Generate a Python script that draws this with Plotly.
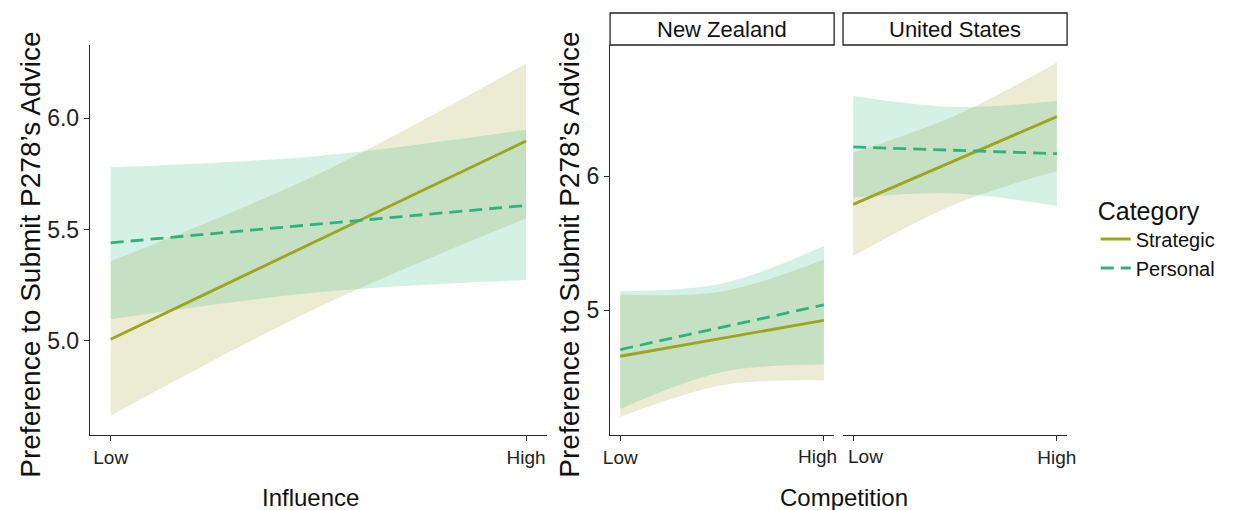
import plotly.graph_objects as go

# ---------------- data ----------------
x_pos = [0, 0.5, 1]            # Low, middle, High
tick_labels = ["Low", "High"]
categories = ["Strategic", "Personal"]
facets = ["New Zealand", "United States"]

# Panel 1: Influence
inf_strat_fit = [5.006, 5.452, 5.898]
inf_strat_lo = [4.662, 5.150, 5.549]
inf_strat_hi = [5.357, 5.750, 6.247]
inf_pers_fit = [5.440, 5.524, 5.608]
inf_pers_lo = [5.096, 5.217, 5.272]
inf_pers_hi = [5.780, 5.831, 5.949]

# Panel 2: Competition - New Zealand
nz_strat_fit = [4.657, 4.791, 4.925]
nz_strat_lo = [4.204, 4.440, 4.478]
nz_strat_hi = [5.117, 5.140, 5.378]
nz_pers_fit = [4.707, 4.873, 5.040]
nz_pers_lo = [4.264, 4.540, 4.595]
nz_pers_hi = [5.142, 5.200, 5.478]

# Panel 3: Competition - United States
us_strat_fit = [5.789, 6.116, 6.443]
us_strat_lo = [5.403, 5.790, 6.037]
us_strat_hi = [6.175, 6.450, 6.846]
us_pers_fit = [6.217, 6.192, 6.167]
us_pers_lo = [5.840, 5.870, 5.776]
us_pers_hi = [6.597, 6.515, 6.560]

# ---------------- styles ----------------
W, H = 1235, 510
STRAT_LINE = "#9CA51E"
PERS_LINE = "#2DB47E"
STRAT_FILL = "rgba(160,160,40,0.20)"
PERS_FILL = "rgba(45,180,125,0.20)"
AXC = "#2a2a2a"
TXT = "#111111"
FONT = "Liberation Sans, Arial, Helvetica, sans-serif"

fig = go.Figure()

panels = [
    ("x", "y", inf_strat_fit, inf_strat_lo, inf_strat_hi, inf_pers_fit, inf_pers_lo, inf_pers_hi, True),
    ("x2", "y2", nz_strat_fit, nz_strat_lo, nz_strat_hi, nz_pers_fit, nz_pers_lo, nz_pers_hi, False),
    ("x3", "y3", us_strat_fit, us_strat_lo, us_strat_hi, us_pers_fit, us_pers_lo, us_pers_hi, False),
]

for xa, ya, sf, sl, sh, pf, pl, ph, leg in panels:
    for lo, hi, fill in [(sl, sh, STRAT_FILL), (pl, ph, PERS_FILL)]:
        fig.add_trace(go.Scatter(x=x_pos, y=lo, xaxis=xa, yaxis=ya, mode="lines",
                                 line=dict(width=0, shape="spline", color=fill),
                                 showlegend=False, hoverinfo="skip"))
        fig.add_trace(go.Scatter(x=x_pos, y=hi, xaxis=xa, yaxis=ya, mode="lines",
                                 line=dict(width=0, shape="spline", color=fill),
                                 fill="tonexty", fillcolor=fill,
                                 showlegend=False, hoverinfo="skip"))
    fig.add_trace(go.Scatter(x=x_pos, y=sf, xaxis=xa, yaxis=ya, mode="lines",
                             line=dict(color=STRAT_LINE, width=2.8),
                             name=categories[0], showlegend=leg, legendgroup="s"))
    fig.add_trace(go.Scatter(x=x_pos, y=pf, xaxis=xa, yaxis=ya, mode="lines",
                             line=dict(color=PERS_LINE, width=2.8, dash="13px,7px"),
                             name=categories[1], showlegend=leg, legendgroup="p"))


def px_x(p):
    return p / W


def px_y(p):
    return 1 - p / H


xr = [-0.05, 1.05]


def xaxis_cfg(dom, anchor, ticktext):
    return dict(domain=dom, anchor=anchor, range=xr, tickmode="array", tickvals=[0, 1],
                ticktext=ticktext, showline=True, linecolor=AXC, linewidth=1.3,
                ticks="outside", ticklen=5, tickcolor=AXC, tickwidth=1.2,
                showgrid=False, zeroline=False,
                tickfont=dict(size=19, color="#222222", family=FONT))


ydom = [px_y(435), px_y(45)]
fig.update_layout(
    width=W, height=H,
    margin=dict(l=0, r=0, t=0, b=0),
    paper_bgcolor="white", plot_bgcolor="white",
    font=dict(family=FONT, color=TXT),
    xaxis=xaxis_cfg([px_x(84), px_x(547)], "y", tick_labels),
    xaxis2=xaxis_cfg([px_x(611), px_x(838)], "y2", [tick_labels[0], ""]),
    xaxis3=xaxis_cfg([px_x(847), px_x(1074)], "y3", ["", tick_labels[1]]),
    yaxis=dict(domain=ydom, anchor="x", range=[4.575, 6.33], tickvals=[5.0, 5.5, 6.0],
               tickformat=".1f", showline=True, linecolor=AXC, linewidth=1.3,
               ticks="outside", ticklen=5, tickcolor=AXC, tickwidth=1.2,
               showgrid=False, zeroline=False,
               tickfont=dict(size=23, color="#222222", family=FONT)),
    yaxis2=dict(domain=ydom, anchor="x2", range=[4.07, 6.977], tickvals=[5, 6],
                showline=True, linecolor=AXC, linewidth=1.3,
                ticks="outside", ticklen=5, tickcolor=AXC, tickwidth=1.2,
                showgrid=False, zeroline=False,
                tickfont=dict(size=23, color="#222222", family=FONT)),
    yaxis3=dict(domain=ydom, anchor="x3", matches="y2", showline=False,
                showticklabels=False, ticks="", showgrid=False, zeroline=False),
    legend=dict(x=px_x(1103), y=px_y(187), xanchor="left", yanchor="top",
                title=dict(text="Category", font=dict(size=25, family=FONT, color=TXT)),
                font=dict(size=20, family=FONT, color=TXT),
                itemwidth=30, tracegroupgap=0, bgcolor="rgba(0,0,0,0)"),
    showlegend=True,
)

# tick labels that sit nudged apart where the two facets meet (as in the reference)
fig.add_annotation(xref="x2", yref="paper", x=1, xshift=-6, y=px_y(456), text=tick_labels[1],
                   showarrow=False, xanchor="center", yanchor="middle",
                   font=dict(size=19, color="#222222", family=FONT))
fig.add_annotation(xref="x3", yref="paper", x=0, xshift=12, y=px_y(456), text=tick_labels[0],
                   showarrow=False, xanchor="center", yanchor="middle",
                   font=dict(size=19, color="#222222", family=FONT))

# strips
for (x0, x1), label in zip([(611, 838), (847, 1074)], facets):
    fig.add_shape(type="rect", xref="paper", yref="paper",
                  x0=px_x(x0), x1=px_x(x1), y0=px_y(45), y1=px_y(13),
                  line=dict(color="#222222", width=1.3), fillcolor="white")
    fig.add_annotation(xref="paper", yref="paper", x=px_x((x0 + x1) / 2), y=px_y(29),
                       text=label, showarrow=False, xanchor="center", yanchor="middle",
                       font=dict(size=22, family=FONT, color=TXT))

# axis titles
ytitle = "Preference to Submit P278\u2019s Advice"
for xc in (23, 569):
    fig.add_annotation(xref="paper", yref="paper", x=px_x(xc), y=px_y(255), text=ytitle,
                       textangle=-90, showarrow=False, xanchor="center", yanchor="middle",
                       font=dict(size=28, family=FONT, color=TXT))
fig.add_annotation(xref="paper", yref="paper", x=px_x(307), y=px_y(497), text="Influence",
                   showarrow=False, xanchor="center", yanchor="middle",
                   font=dict(size=24, family=FONT, color=TXT))
fig.add_annotation(xref="paper", yref="paper", x=px_x(848), y=px_y(497), text="Competition",
                   showarrow=False, xanchor="center", yanchor="middle",
                   font=dict(size=24, family=FONT, color=TXT))

fig.write_html("out.html")
